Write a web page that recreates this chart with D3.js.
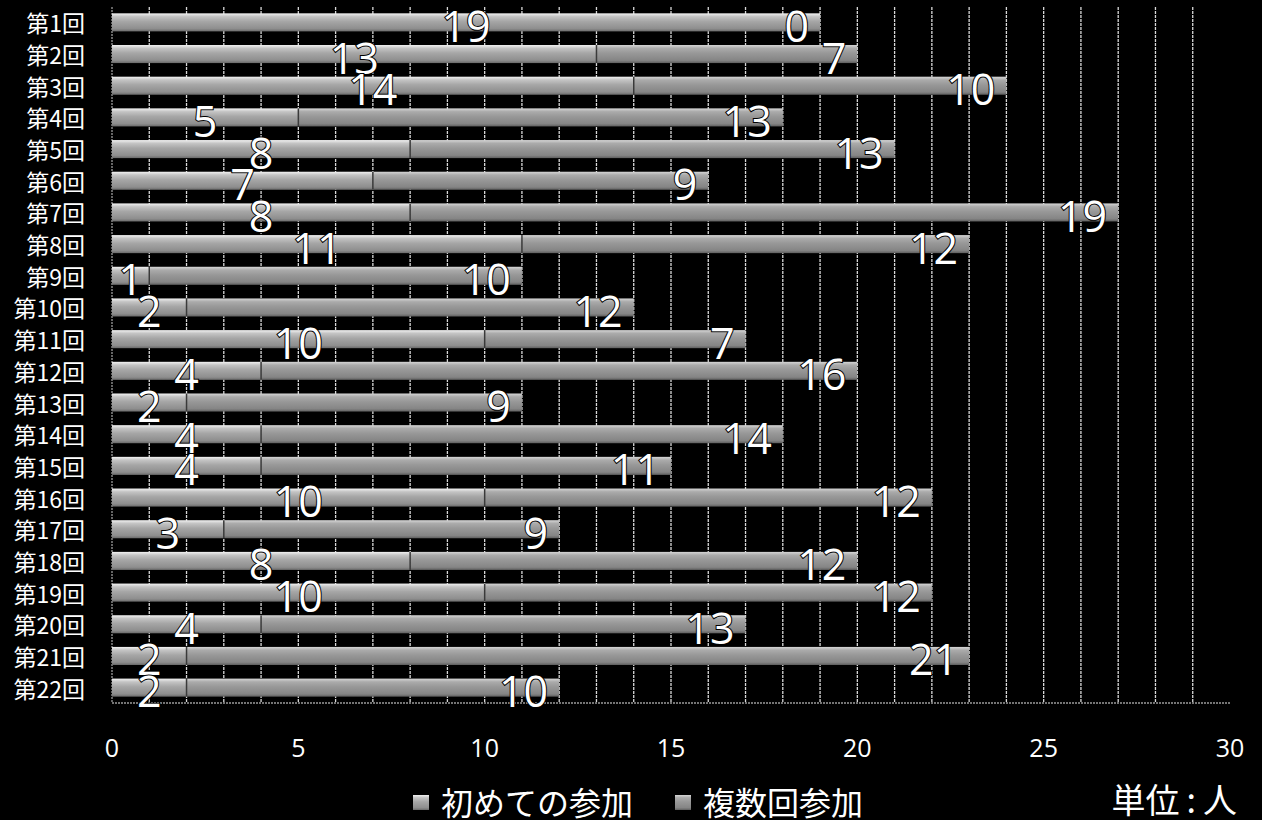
<!DOCTYPE html>
<html>
<head>
<meta charset="utf-8">
<script src="https://cdn.jsdelivr.net/npm/d3@7"></script>
<style>
  body { margin: 0; background: #000; }
  svg { display: block; }
</style>
</head>
<body>
<div id="chart"></div>
<script>
// data
let rounds = ["第1回", "第2回", "第3回", "第4回", "第5回", "第6回", "第7回", "第8回", "第9回", "第10回", "第11回",
  "第12回", "第13回", "第14回", "第15回", "第16回", "第17回", "第18回", "第19回", "第20回", "第21回", "第22回"];
let firstTime = [19, 13, 14, 5, 8, 7, 8, 11, 1, 2, 10, 4, 2, 4, 4, 10, 3, 8, 10, 4, 2, 2];
let repeaters = [0, 7, 10, 13, 13, 9, 19, 12, 10, 12, 7, 16, 9, 14, 11, 12, 9, 12, 12, 13, 21, 10];
let xTicks = [0, 5, 10, 15, 20, 25, 30];
let seriesNames = ["初めての参加", "複数回参加"];
let unitLabel = ["単位", ":", "人"];

let width = 1262, height = 820;
let margin = { left: 112, right: 32, top: 7, bottom: 117 };

let svg = d3.select("#chart").append("svg")
  .attr("width", width)
  .attr("height", height)
  .style("background", "#000");

// bar shading, a bit like the 3D look of the original
let defs = svg.append("defs");
function makeGrad(id, stops) {
  let gr = defs.append("linearGradient").attr("id", id)
    .attr("x1", 0).attr("y1", 0).attr("x2", 0).attr("y2", 1);
  stops.forEach(s => gr.append("stop").attr("offset", s[0]).attr("stop-color", s[1]));
}
makeGrad("g1", [[0, "#f2f2f2"], [0.18, "#c4c4c4"], [0.45, "#a6a6a6"], [0.85, "#8e8e8e"], [1, "#6a6a6a"]]);
makeGrad("g2", [[0, "#d6d6d6"], [0.18, "#ababab"], [0.45, "#989898"], [0.85, "#858585"], [1, "#5e5e5e"]]);

let x = d3.scaleLinear().domain([0, 30]).range([margin.left, width - margin.right]);
let y = d3.scaleBand().domain(rounds).range([margin.top, height - margin.bottom]).paddingInner(0.43).paddingOuter(0.2);

// vertical gridlines
svg.append("g").selectAll("line")
  .data(d3.range(1, 30))
  .enter().append("line")
  .attr("x1", d => x(d)).attr("x2", d => x(d))
  .attr("y1", margin.top).attr("y2", height - margin.bottom)
  .attr("stroke", "#d8d8d8")
  .attr("stroke-width", 1.3)
  .attr("stroke-dasharray", "3,1");

// axis lines
svg.append("line")
  .attr("x1", x(0)).attr("x2", x(30))
  .attr("y1", height - margin.bottom).attr("y2", height - margin.bottom)
  .attr("stroke", "#9a9a9a").attr("stroke-width", 1.3).attr("stroke-dasharray", "2,1");
svg.append("line")
  .attr("x1", x(0)).attr("x2", x(0))
  .attr("y1", margin.top).attr("y2", height - margin.bottom)
  .attr("stroke", "#9a9a9a").attr("stroke-width", 1.3).attr("stroke-dasharray", "2,1");

let rows = rounds.map((r, i) => ({ round: r, a: firstTime[i], b: repeaters[i] }));

let bars = svg.append("g");
bars.selectAll("rect.s1")
  .data(rows).enter().append("rect")
  .attr("class", "s1")
  .attr("x", x(0))
  .attr("y", d => y(d.round))
  .attr("width", d => x(d.a) - x(0))
  .attr("height", y.bandwidth())
  .attr("fill", "url(#g1)");
bars.selectAll("rect.s2")
  .data(rows).enter().append("rect")
  .attr("class", "s2")
  .attr("x", d => x(d.a))
  .attr("y", d => y(d.round))
  .attr("width", d => x(d.a + d.b) - x(d.a))
  .attr("height", y.bandwidth())
  .attr("fill", "url(#g2)");
// dark seam between the two segments
bars.selectAll("line.seam")
  .data(rows.filter(d => d.b > 0)).enter().append("line")
  .attr("x1", d => x(d.a)).attr("x2", d => x(d.a))
  .attr("y1", d => y(d.round)).attr("y2", d => y(d.round) + y.bandwidth())
  .attr("stroke", "#3a3a3a").attr("stroke-width", 1.5);

// value labels
let labelFont = "'Open Sans', 'Noto Sans', sans-serif";
function valueLabels(xf, anchor, textf) {
  svg.append("g").selectAll("text")
    .data(rows).enter().append("text")
    .attr("x", xf)
    .attr("y", d => y(d.round) + y.bandwidth() / 2 + 3)
    .attr("dominant-baseline", "central")
    .attr("text-anchor", anchor)
    .attr("font-family", labelFont)
    .attr("font-size", 43)
    .attr("fill", "#fff")
    .attr("stroke", "#000")
    .attr("stroke-width", 2)
    .attr("paint-order", "stroke")
    .text(textf);
}
valueLabels(d => x(d.a / 2), "middle", d => d.a);
valueLabels(d => x(d.a + d.b) - 11, "end", d => d.b);

// category labels
svg.append("g").selectAll("text")
  .data(rounds).enter().append("text")
  .attr("x", 85)
  .attr("y", d => y(d) + y.bandwidth() / 2)
  .attr("dominant-baseline", "central")
  .attr("text-anchor", "end")
  .attr("font-family", "'Noto Sans CJK JP', sans-serif")
  .attr("font-size", 23)
  .attr("fill", "#fff")
  .text(d => d);

// x tick labels
svg.append("g").selectAll("text")
  .data(xTicks).enter().append("text")
  .attr("x", d => x(d))
  .attr("y", 747)
  .attr("dominant-baseline", "central")
  .attr("text-anchor", "middle")
  .attr("font-family", labelFont)
  .attr("font-size", 25)
  .attr("fill", "#fff")
  .text(d => d);

// legend
let legendX = [413, 675];
let lg = svg.append("g");
seriesNames.forEach((name, i) => {
  let gx = legendX[i];
  lg.append("rect")
    .attr("x", gx).attr("y", 795).attr("width", 16).attr("height", 15)
    .attr("fill", i === 0 ? "url(#g1)" : "url(#g2)");
  lg.append("text")
    .attr("x", gx + 28).attr("y", 801)
    .attr("dominant-baseline", "central")
    .attr("font-family", "'Noto Sans CJK JP', sans-serif")
    .attr("font-size", 32)
    .attr("fill", "#fff")
    .text(name);
});

// unit note, colon spaced out like the original
let unit = svg.append("text")
  .attr("x", 1237).attr("y", 798)
  .attr("dominant-baseline", "central")
  .attr("text-anchor", "end")
  .attr("font-family", "'Noto Sans CJK JP', sans-serif")
  .attr("font-size", 34)
  .attr("fill", "#fff");
unit.selectAll("tspan")
  .data(unitLabel).enter().append("tspan")
  .attr("dx", (d, i) => i === 0 ? 0 : 7)
  .text(d => d);
</script>
</body>
</html>
